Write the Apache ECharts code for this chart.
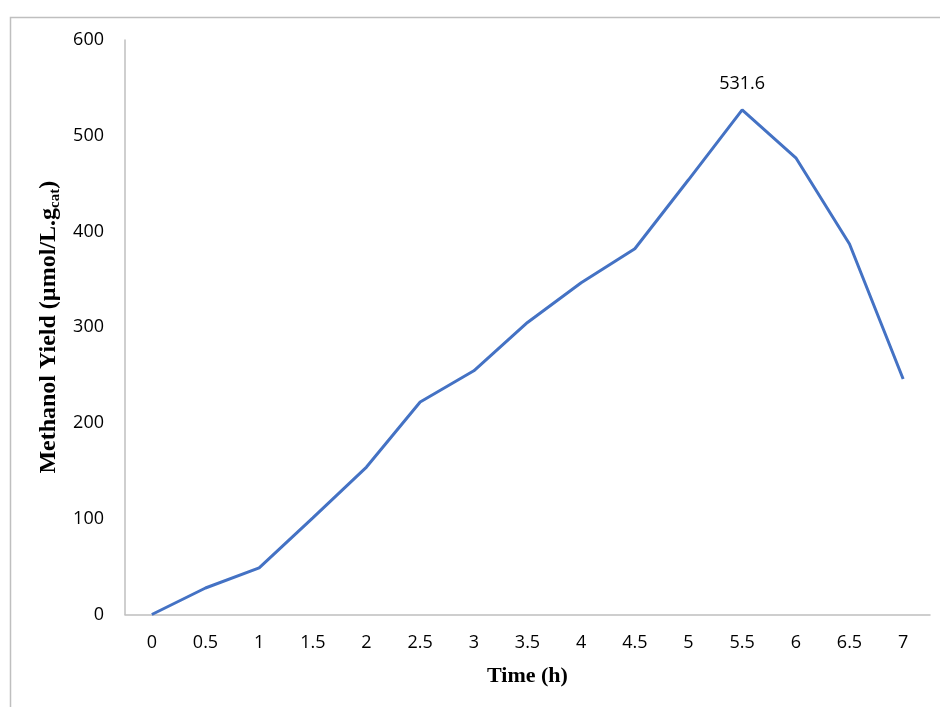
<!DOCTYPE html>
<html>
<head>
<meta charset="utf-8">
<script src="https://cdn.jsdelivr.net/npm/echarts@6/dist/echarts.min.js"></script>
<style>html,body{margin:0;padding:0;background:#fff}#c{width:940px;height:707px}</style>
</head>
<body>
<div id="c"></div>
<script>
const categories = ['0','0.5','1','1.5','2','2.5','3','3.5','4','4.5','5','5.5','6','6.5','7'];
const yieldValues = [0, 27.7, 48.6, 101, 154, 222, 254.5, 305, 346.5, 382, 454, 527, 477, 387, 246];
const peakLabel = '531.6';
const peakIndex = 11;
const yTicks = [0, 100, 200, 300, 400, 500, 600];

const chart = echarts.init(document.getElementById('c'));
const seriesData = yieldValues.map((v, i) => i === peakIndex
  ? { value: v, label: { show: true, position: 'top', distance: 17, formatter: peakLabel,
      fontFamily: 'Open Sans', fontSize: 18, color: '#000' } }
  : v);

chart.setOption({
  animation: false,
  backgroundColor: '#fff',
  graphic: [{
    type: 'rect', left: 8, top: 15, silent: true,
    shape: { x: 0, y: 0, width: 1000, height: 800 },
    style: { fill: 'none', stroke: '#bfbfbf', lineWidth: 1.5 }
  }],
  grid: { left: 125, right: 10, top: 40, bottom: 92.5, containLabel: false },
  xAxis: {
    type: 'category',
    data: categories,
    boundaryGap: true,
    name: 'Time (h)',
    nameLocation: 'middle',
    nameGap: 51,
    nameTextStyle: { fontFamily: 'Liberation Serif', fontWeight: 'bold', fontSize: 22, color: '#000' },
    axisLine: { lineStyle: { color: '#bfbfbf', width: 1.5 } },
    axisTick: { show: false },
    axisLabel: { fontFamily: 'Open Sans', fontSize: 18, color: '#000', margin: 19 },
    splitLine: { show: false }
  },
  yAxis: {
    type: 'value',
    min: yTicks[0], max: yTicks[yTicks.length - 1], interval: 100,
    name: '{a|Methanol Yield (µmol/L.g}{s|cat}{a|)}',
    nameLocation: 'middle',
    nameRotate: 90,
    nameGap: 53,
    nameTextStyle: {
      rich: {
        a: { fontFamily: 'Liberation Serif', fontWeight: 'bold', fontSize: 24, color: '#000' },
        s: { fontFamily: 'Liberation Serif', fontWeight: 'bold', fontSize: 15, color: '#000', verticalAlign: 'bottom', padding: [12, 0, 0, 0] }
      }
    },
    axisLine: { show: true, lineStyle: { color: '#bfbfbf', width: 1.5 } },
    axisTick: { show: false },
    axisLabel: { fontFamily: 'Open Sans', fontSize: 18, color: '#000', margin: 21 },
    splitLine: { show: false }
  },
  series: [{
    type: 'line',
    data: seriesData,
    symbol: 'circle',
    symbolSize: 0,
    showSymbol: true,
    lineStyle: { color: '#4472C4', width: 3 },
    itemStyle: { color: '#4472C4' }
  }]
});
</script>
</body>
</html>
